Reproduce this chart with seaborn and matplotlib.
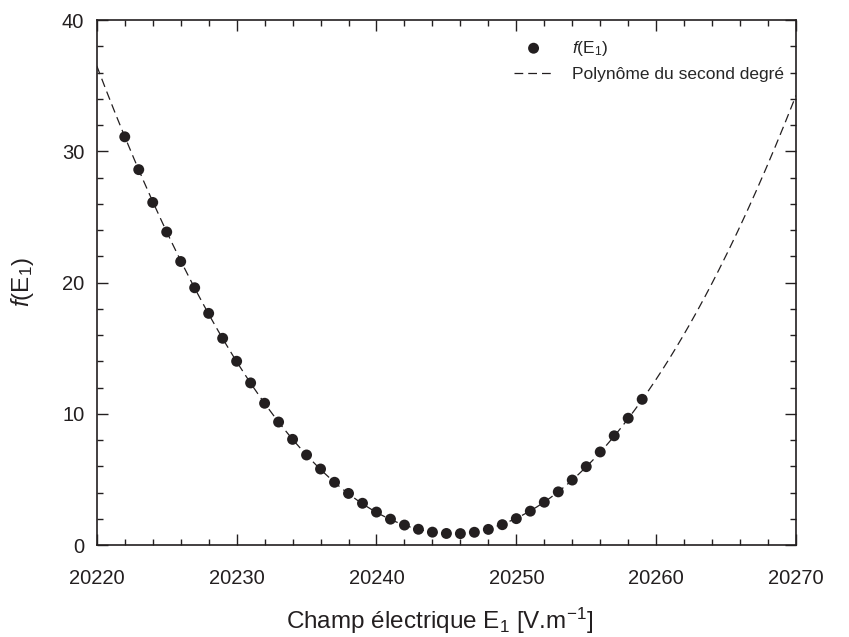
import numpy as np
import matplotlib
matplotlib.use("Agg")
import matplotlib.pyplot as plt
import seaborn as sns
from matplotlib.ticker import MultipleLocator

# Data
champ_e1 = [20222, 20223, 20224, 20225, 20226, 20227, 20228, 20229, 20230,
            20231, 20232, 20233, 20234, 20235, 20236, 20237, 20238, 20239,
            20240, 20241, 20242, 20243, 20244, 20245, 20246, 20247, 20248,
            20249, 20250, 20251, 20252, 20253, 20254, 20255, 20256, 20257,
            20258, 20259]
f_e1 = [31.1, 28.6, 26.1, 23.85, 21.6, 19.6, 17.65, 15.75, 14.0,
        12.35, 10.8, 9.37, 8.05, 6.86, 5.79, 4.78, 3.93, 3.18,
        2.51, 1.97, 1.52, 1.2, 0.98, 0.88, 0.87, 0.97, 1.19,
        1.55, 2.01, 2.58, 3.26, 4.05, 4.95, 5.97, 7.09, 8.32,
        9.66, 11.1]

# second-degree polynomial fitted to the points
coefs = np.polyfit(champ_e1, f_e1, 2)
x_fit = np.linspace(20220, 20270, 300)
y_fit = np.polyval(coefs, x_fit)

sns.set_style("ticks")
plt.rcParams["font.family"] = ["Liberation Sans", "DejaVu Sans"]
plt.rcParams["mathtext.fontset"] = "custom"
plt.rcParams["mathtext.rm"] = "Liberation Sans"
plt.rcParams["mathtext.it"] = "Liberation Sans:italic"

ink = "#231f20"

fig = plt.figure(figsize=(8.49, 6.37), dpi=100)
ax = fig.add_axes([0.114, 0.1444, 0.8236, 0.8242])

sns.lineplot(x=x_fit, y=y_fit, ax=ax, color=ink, linewidth=0.9,
             linestyle=(0, (7, 4)), label="Polynôme du second degré")
sns.scatterplot(x=champ_e1, y=f_e1, ax=ax, color=ink, s=62,
                edgecolor="none", label=r"$\mathit{f}$(E$_1$)", zorder=3)

ax.set_xlim(20220, 20270)
ax.set_ylim(0, 40)
ax.xaxis.set_major_locator(MultipleLocator(10))
ax.xaxis.set_minor_locator(MultipleLocator(2))
ax.yaxis.set_major_locator(MultipleLocator(10))
ax.yaxis.set_minor_locator(MultipleLocator(2))
ax.tick_params(which="both", direction="in", top=True, right=True,
               colors=ink, labelsize=14.5, width=1)
ax.tick_params(which="major", length=8)
ax.tick_params(which="minor", length=4)
ax.tick_params(axis="x", which="major", pad=17)
ax.tick_params(axis="y", which="major", pad=9)
for sp in ax.spines.values():
    sp.set_color(ink)
    sp.set_linewidth(1.2)

ax.set_xlabel(r"Champ électrique E$_1$ [V.m$^{-1}$]", fontsize=17.5,
              color=ink)
ax.xaxis.set_label_coords(0.49, -0.116)
ax.set_ylabel(r"$\mathit{f}$(E$_1$)", fontsize=17.5, color=ink)
ax.yaxis.set_label_coords(-0.087, 0.5)

handles, labels = ax.get_legend_handles_labels()
ax.legend(handles[::-1], labels[::-1], loc="upper left",
          bbox_to_anchor=(0.575, 0.994), frameon=False, fontsize=12.5,
          handlelength=2.2, handletextpad=1.1, labelspacing=0.5)

fig.savefig("out.png", dpi=100)
